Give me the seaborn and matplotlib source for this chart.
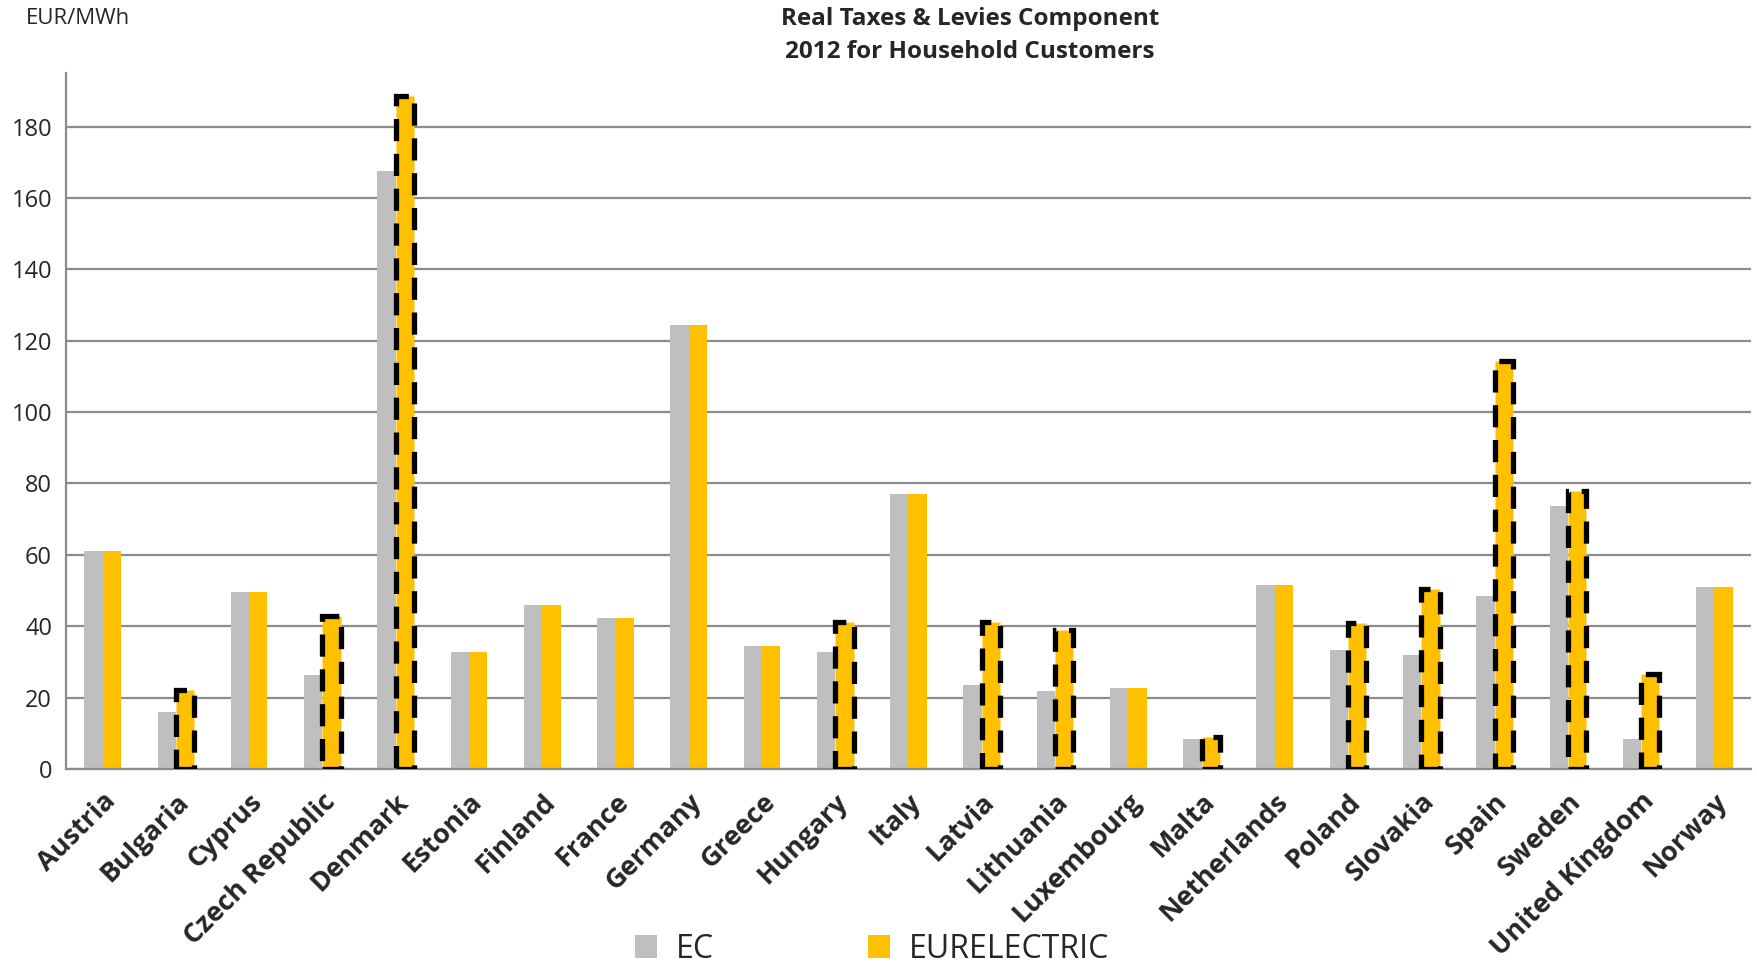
import matplotlib
matplotlib.use("Agg")
import matplotlib.pyplot as plt
from matplotlib.patches import Patch
import seaborn as sns
import pandas as pd
import numpy as np

countries = ["Austria", "Bulgaria", "Cyprus", "Czech Republic", "Denmark", "Estonia",
             "Finland", "France", "Germany", "Greece", "Hungary", "Italy", "Latvia",
             "Lithuania", "Luxembourg", "Malta", "Netherlands", "Poland", "Slovakia",
             "Spain", "Sweden", "United Kingdom", "Norway"]
ec_values = [61, 16, 49.5, 26.2, 167.5, 32.8, 46, 42.4, 124.4, 34.6, 32.9, 77.1, 23.5,
             21.9, 22.8, 8.4, 51.6, 33.4, 31.8, 48.5, 73.7, 8.5, 50.9]
eurelectric_values = [61, 22.1, 49.5, 43, 188.5, 32.8, 46, 42.4, 124.4, 34.6, 41.2, 77.1, 41.1,
                      39, 22.8, 9, 51.6, 41, 50.4, 114.4, 77.9, 26.7, 50.9]
dashed_flags = [False, True, False, True, True, False, False, False, False, False, True, False,
                True, True, False, True, False, True, True, True, True, True, False]
series_names = ["EC", "EURELECTRIC"]
y_ticks = [0, 20, 40, 60, 80, 100, 120, 140, 160, 180]

df = pd.DataFrame({
    "country": countries * 2,
    "value": ec_values + eurelectric_values,
    "series": [series_names[0]] * len(countries) + [series_names[1]] * len(countries),
})

sns.set_style("white")
plt.rcParams["font.family"] = ["Open Sans", "DejaVu Sans"]

fig = plt.figure(figsize=(17.58, 9.65), dpi=100)
ax = fig.add_axes([66 / 1758, 1 - 769 / 965, (1751 - 66) / 1758, (769 - 73) / 965])

colors = {"EC": "#BFBFBF", "EURELECTRIC": "#FFC000"}
sns.barplot(data=df, x="country", y="value", hue="series", hue_order=series_names,
            palette=colors, width=0.5, ax=ax, legend=False, saturation=1)

eur_container = ax.containers[1]
for bar, flag in zip(eur_container.patches, dashed_flags):
    if flag:
        bar.set_edgecolor("black")
        bar.set_linewidth(3.8)
        bar.set_linestyle((0, (4.2, 2.4)))
        bar.set_zorder(4)
    else:
        bar.set_linewidth(0)
for bar in ax.containers[0].patches:
    bar.set_linewidth(0)

ax.set_ylim(0, 195)
ax.set_xlim(-0.5, len(countries) - 0.5)
ax.set_yticks(y_ticks)
ax.set_yticklabels([str(t) for t in y_ticks], fontsize=17)
ax.yaxis.grid(True, color="#8C8C8C", linewidth=1.6)
ax.set_axisbelow(True)
ax.set_xlabel("")
ax.set_ylabel("")

for s in ["top", "right"]:
    ax.spines[s].set_visible(False)
for s in ["left", "bottom"]:
    ax.spines[s].set_color("#8C8C8C")
    ax.spines[s].set_linewidth(1.6)

ax.tick_params(axis="y", length=6, width=1.6, color="#8C8C8C", direction="out", pad=4)
ax.set_xticks(range(len(countries)))
ax.set_xticklabels(countries, rotation=45, ha="right", rotation_mode="anchor",
                   fontsize=19.5, fontweight="bold")
ax.tick_params(axis="x", which="major", length=0, pad=14)
ax.set_xticks(np.arange(-0.5, len(countries), 1.0), minor=True)
ax.tick_params(axis="x", which="minor", length=8, width=1.6, color="#8C8C8C", direction="out")

fig.text(970 / 1758, 1 - 7 / 965, "Real Taxes & Levies Component\n2012 for Household Customers",
         ha="center", va="top", fontsize=17.5, fontweight="bold", linespacing=1.5)
fig.text(26 / 1758, 1 - 19 / 965, "EUR/MWh", ha="left", va="center", fontsize=16)

handles = [Patch(facecolor=colors[n], edgecolor="none") for n in series_names]
fig.legend(handles, series_names, loc="center", bbox_to_anchor=(872 / 1758, 1 - 949 / 965),
           ncol=2, frameon=False, fontsize=23, handlelength=0.7, handleheight=0.7,
           handletextpad=0.6, columnspacing=4.8)

fig.savefig("out.png", dpi=100)
